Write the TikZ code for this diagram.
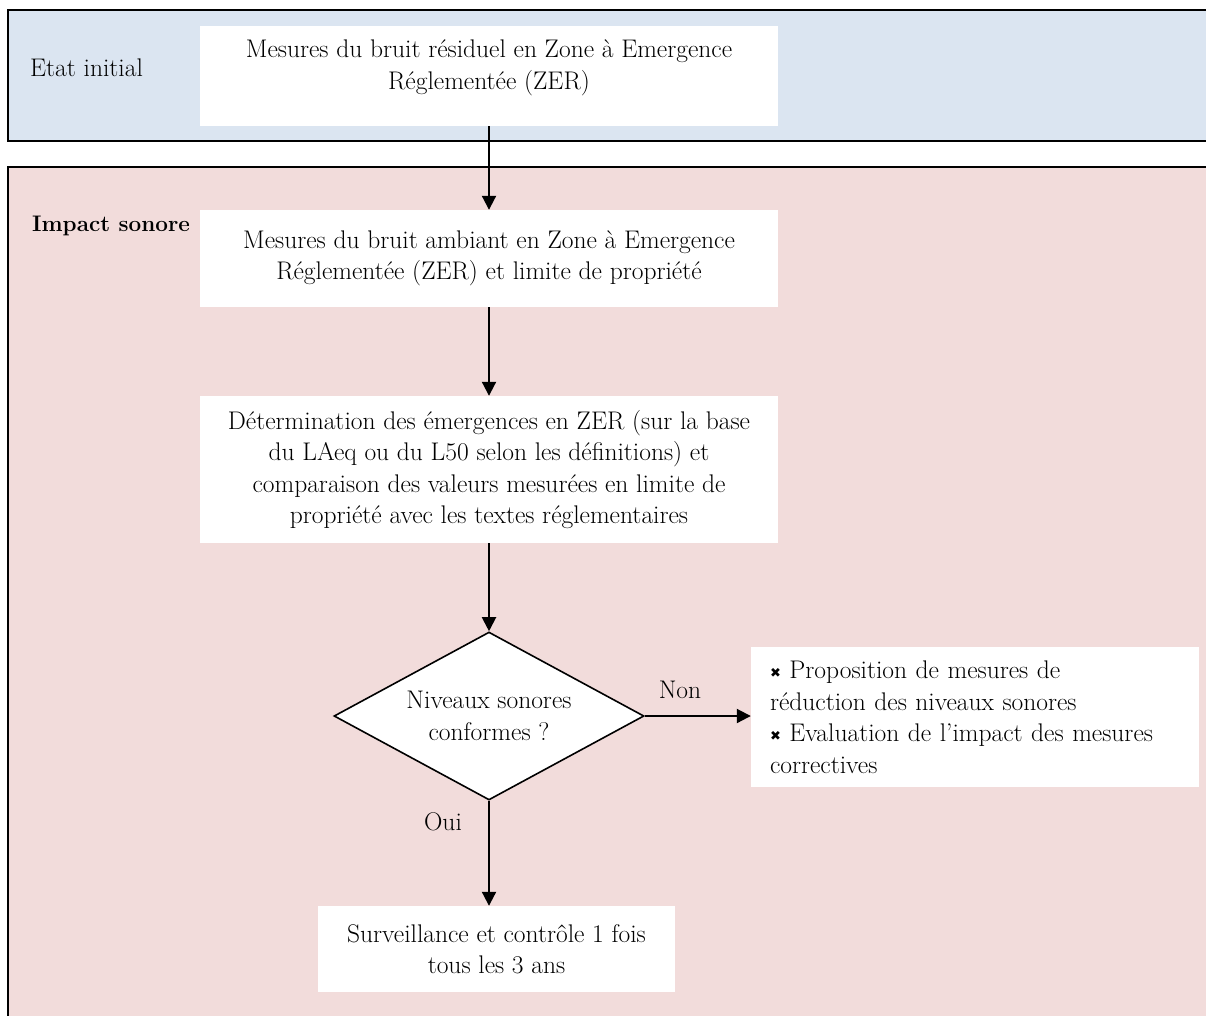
\documentclass[tikz,border=0pt]{standalone}
\usepackage{fontspec}
\newfontfamily\symfont{DejaVu Sans}
\usetikzlibrary{shapes.geometric,arrows.meta}
\definecolor{bluebg}{HTML}{DBE5F1}
\definecolor{pinkbg}{HTML}{F2DCDB}
\newcommand{\xbul}{{\symfont\fontsize{13}{13}\selectfont\raisebox{1pt}{✖}}}
\begin{document}
\begin{tikzpicture}[x=1pt,y=-1pt,
  every node/.style={font=\fontsize{25.5}{31.5}\selectfont, inner sep=0pt},
  wbox/.style={fill=white, draw=none, align=center},
  arr/.style={line width=2pt, -{Triangle[width=14pt,length=14pt]}},
  panel/.style={line width=2pt, draw=black}]
\useasboundingbox (0,0) rectangle (1206,1015);
% panels
\draw[panel, fill=bluebg] (8,10) rectangle (1220,141);
\draw[panel, fill=pinkbg] (8,167) rectangle (1220,1030);
% panel titles
\node[anchor=west] (l1) at (30,68) {Etat initial};
\node[anchor=west, font=\fontsize{22.5}{31.5}\selectfont\bfseries] (l2) at (32,226) {Impact sonore};
% boxes
\node[wbox, minimum width=578pt, minimum height=100pt] (b1) at (489,76) {};
\node[align=center] (t1) at (489,68) {Mesures du bruit résiduel en Zone à Emergence\\Réglementée (ZER)};
\node[wbox, minimum width=578pt, minimum height=97pt] (b2) at (489,258.5) {Mesures du bruit ambiant en Zone à Emergence\\Réglementée (ZER) et limite de propriété};
\node[wbox, minimum width=578pt, minimum height=147pt] (b3) at (489,469.5) {Détermination des émergences en ZER (sur la base\\du LAeq ou du L50 selon les définitions) et\\comparaison des valeurs mesurées en limite de\\propriété avec les textes réglementaires};
\node[diamond, draw, line width=1.6pt, fill=white, minimum width=310pt, minimum height=168pt, shape aspect=1.845, align=center] (d) at (489,716) {Niveaux sonores\\conformes ?};
\node[wbox, minimum width=448pt, minimum height=140pt, text width=410pt, align=left] (r) at (975,717) {\xbul\ Proposition de mesures de\\réduction des niveaux sonores\\\xbul\ Evaluation de l’impact des mesures\\correctives};
\node[wbox, minimum width=357pt, minimum height=86pt] (bot) at (496.5,949) {Surveillance et contrôle 1 fois\\tous les 3 ans};
% labels
\node (non) at (680,690) {Non};
\node (oui) at (443,822) {Oui};
% arrows
\draw[arr] (b1.south) -- (b2.north);
\draw[arr] (b2.south) -- (b3.north);
\draw[arr] (b3.south) -- (d.north);
\draw[arr] (d.east) -- (d.east -| r.west);
\draw[arr] (d.south) -- (d.south |- bot.north);
\end{tikzpicture}
\end{document}
